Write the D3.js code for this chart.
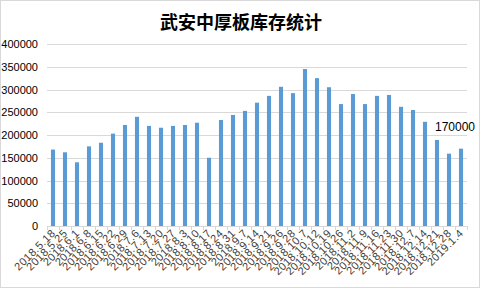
<!DOCTYPE html>
<html>
<head>
<meta charset="utf-8">
<script src="https://cdn.jsdelivr.net/npm/d3@7"></script>
<style>
  body { margin: 0; background: #fff; }
  text { font-family: "Liberation Sans", Arial, sans-serif; }
</style>
</head>
<body>
<div id="chart"></div>
<script>
const W = 481, H = 290;
const MARGINS = {top: 44, bottom: 64, left: 47, right: 14};

// week labels and stock values
const dates = ["2018.5.18","2018.5.25","2018.6.1","2018.6.8","2018.6.15","2018.6.22","2018.6.29",
  "2018.7.6","2018.7.13","2018.7.20","2018.7.27","2018.8.3","2018.8.10","2018.8.17","2018.8.24",
  "2018.8.31","2018.9.7","2018.9.14","2018.9.21","2018.9.26","2018.9.28","2018.10.7","2018.10.12",
  "2018.10.19","2018.10.26","2018.11.2","2018.11.9","2018.11.16","2018.11.23","2018.11.30",
  "2018.12.7","2018.12.14","2018.12.21","2018.12.28","2019.1.4"];
const stock = [168000,162000,140000,175000,183000,203000,222000,240000,220000,216000,220000,222000,
  227000,150000,233000,244000,253000,271000,286000,306000,292000,345000,325000,305000,268000,
  290000,268000,286000,288000,262000,255000,229000,189000,159000,170000];
const yTicks = [0,50000,100000,150000,200000,250000,300000,350000,400000];

const CHART_WIDTH = W - MARGINS.left - MARGINS.right;
const CHART_HEIGHT = H - MARGINS.top - MARGINS.bottom;

const svg = d3.select('#chart').append('svg')
    .attr('width', W)
    .attr('height', H);

// outer frame
svg.append('rect')
    .attr('x', 0.5).attr('y', 0.5)
    .attr('width', W - 2).attr('height', H - 3)
    .attr('fill', '#fff')
    .attr('stroke', '#d9d9d9');

// title
svg.append('text')
    .attr('x', 241).attr('y', 29)
    .attr('text-anchor', 'middle')
    .style('font-family', '"Noto Sans CJK SC", sans-serif')
    .style('font-size', '18px')
    .style('font-weight', 'bold')
    .text('武安中厚板库存统计');

const xScale = d3.scaleBand()
    .domain(dates)
    .range([0, CHART_WIDTH])
    .paddingInner(0.66)
    .paddingOuter(0.33);

const yScale = d3.scaleLinear()
    .domain([0, 400000])
    .range([CHART_HEIGHT, 0]);

const chart = svg.append('g')
    .attr('transform', `translate(${MARGINS.left}, ${MARGINS.top})`);

// gridlines
chart.selectAll('.grid')
    .data(yTicks.filter(d => d > 0))
    .enter()
    .append('line')
    .attr('x1', 0).attr('x2', CHART_WIDTH)
    .attr('y1', d => Math.round(yScale(d)) + 0.5)
    .attr('y2', d => Math.round(yScale(d)) + 0.5)
    .attr('stroke', '#d9d9d9');

// y axis labels
const yAxis = d3.axisLeft(yScale)
    .tickValues(yTicks)
    .tickFormat(d3.format('d'))
    .tickSize(0)
    .tickPadding(9);
chart.append('g')
    .call(yAxis)
    .call(g => g.select('.domain').remove())
    .selectAll('text')
    .style('font-size', '11px')
    .style('fill', '#000');

// bars
chart.selectAll('.bar')
    .data(stock)
    .enter()
    .append('rect')
    .classed('bar', true)
    .attr('x', (d, i) => xScale(dates[i]))
    .attr('y', d => yScale(d))
    .attr('width', xScale.bandwidth())
    .attr('height', d => CHART_HEIGHT - yScale(d))
    .style('fill', '#5b9bd5');

// x axis line and ticks between categories
const step = xScale.step();
chart.append('line')
    .attr('x1', 0).attr('x2', CHART_WIDTH)
    .attr('y1', CHART_HEIGHT + 0.5).attr('y2', CHART_HEIGHT + 0.5)
    .attr('stroke', '#d9d9d9');
chart.selectAll('.xtick')
    .data(d3.range(dates.length + 1))
    .enter()
    .append('line')
    .attr('x1', i => Math.round(i * step) + 0.5)
    .attr('x2', i => Math.round(i * step) + 0.5)
    .attr('y1', CHART_HEIGHT)
    .attr('y2', CHART_HEIGHT + 4)
    .attr('stroke', '#e6d3b8');

// x labels, rotated
chart.selectAll('.xlabel')
    .data(dates)
    .enter()
    .append('text')
    .attr('transform', d => `translate(${xScale(d) + xScale.bandwidth() / 2 + 3}, ${CHART_HEIGHT + 8}) rotate(-45)`)
    .attr('text-anchor', 'end')
    .style('font-size', '11px')
    .style('letter-spacing', '0.4px')
    .style('fill', '#404040')
    .text(d => d);

// value label for last bar
const last = dates.length - 1;
chart.append('text')
    .attr('x', xScale(dates[last]) + xScale.bandwidth() / 2 - 6)
    .attr('y', yScale(stock[last]) - 18)
    .attr('text-anchor', 'middle')
    .style('font-size', '12px')
    .text(stock[last]);
</script>
</body>
</html>
